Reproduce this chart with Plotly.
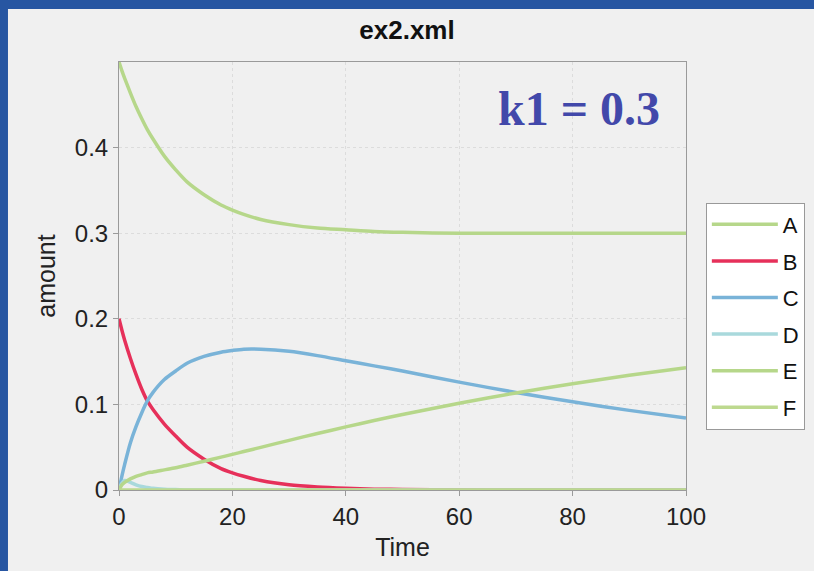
import plotly.graph_objects as go

# Simulation output of ex2.xml (amount of each species over time)
time = [0, 0.5, 1, 2, 3, 4, 5, 6, 8, 10, 12, 15, 18, 20, 22, 25, 30, 35,
        40, 45, 50, 60, 70, 80, 90, 100]
species_a = [0.500, 0.490, 0.481, 0.464, 0.448, 0.434, 0.421, 0.410, 0.390,
             0.374, 0.360, 0.345, 0.333, 0.327, 0.322, 0.316, 0.310, 0.306,
             0.304, 0.302, 0.301, 0.300, 0.300, 0.300, 0.300, 0.300]
species_b = [0.200, 0.187, 0.175, 0.154, 0.135, 0.118, 0.104, 0.094, 0.077,
             0.063, 0.050, 0.036, 0.025, 0.020, 0.016, 0.011, 0.006, 0.0035,
             0.002, 0.001, 0.0006, 0.0002, 0.0, 0.0, 0.0, 0.0]
species_c = [0.000, 0.016, 0.030, 0.055, 0.074, 0.090, 0.104, 0.114, 0.129,
             0.139, 0.148, 0.156, 0.161, 0.163, 0.1645, 0.1645, 0.162, 0.157,
             0.151, 0.145, 0.139, 0.126, 0.114, 0.103, 0.093, 0.084]
species_d = [0.000, 0.008, 0.011, 0.009, 0.006, 0.004, 0.003, 0.002, 0.001,
             0.0005, 0.0, 0.0, 0.0, 0.0, 0.0, 0.0, 0.0, 0.0,
             0.0, 0.0, 0.0, 0.0, 0.0, 0.0, 0.0, 0.0]
species_e = [0.000, 0.006, 0.009, 0.013, 0.016, 0.018, 0.020, 0.021, 0.0235,
             0.026, 0.029, 0.0336, 0.0384, 0.0416, 0.0449, 0.0498, 0.058, 0.066,
             0.0737, 0.0811, 0.0882, 0.1014, 0.1134, 0.1242, 0.134, 0.1428]
species_f = [0.0] * len(time)

names = ["A", "B", "C", "D", "E", "F"]
colors = ["#b6d78a", "#e6305a", "#79b3d8", "#a9d9dc", "#b6d78a", "#bdd98f"]
series = [species_a, species_b, species_c, species_d, species_e, species_f]

x_ticks = [0, 20, 40, 60, 80, 100]
y_ticks = [0, 0.1, 0.2, 0.3, 0.4]
y_tick_text = ["0", "0.1", "0.2", "0.3", "0.4"]

fig = go.Figure()
for name, color, values in zip(names, colors, series):
    fig.add_trace(go.Scatter(
        x=time, y=values, name=name, mode="lines",
        line=dict(color=color, width=3.5, shape="spline", smoothing=0.8),
        legendgroup=name,
    ))

font_family = "Liberation Sans, Arial, sans-serif"
axis_common = dict(
    showline=True, linecolor="#9a9a9a", linewidth=1, mirror=True,
    showgrid=True, gridcolor="#dcdcdc", griddash="dot", gridwidth=1,
    ticks="outside", ticklen=5, tickcolor="#9a9a9a",
    zeroline=False,
    tickfont=dict(family=font_family, size=24, color="#222222"),
)

fig.update_layout(
    width=814, height=571,
    margin=dict(l=119, r=128, t=62, b=81, autoexpand=False),
    paper_bgcolor="#2756a2",
    plot_bgcolor="white",
    title=dict(text="<b>ex2.xml</b>", x=0.5, xanchor="center", y=0.947, yanchor="middle",
               font=dict(family=font_family, size=26, color="#111111")),
    xaxis=dict(range=[0, 100], tickvals=x_ticks,
               title=dict(text="Time", standoff=9,
                          font=dict(family=font_family, size=25, color="#222222")),
               **axis_common),
    yaxis=dict(range=[0, 0.5], tickvals=y_ticks, ticktext=y_tick_text,
               title=dict(text="amount", standoff=12,
                          font=dict(family=font_family, size=25, color="#222222")),
               **axis_common),
    legend=dict(x=1.035, xanchor="left", y=0.4065, yanchor="middle",
                bgcolor="white", bordercolor="#999999", borderwidth=1,
                font=dict(family=font_family, size=22, color="#111111"),
                itemwidth=66, tracegroupgap=5),
    showlegend=True,
    shapes=[
        # light gray panel behind the chart, inset from the blue frame
        dict(type="rect", xref="paper", yref="paper", layer="below",
             x0=-0.1958, x1=1.2258, y0=-0.1893, y1=1.1238,
             fillcolor="#f0f0f0", line=dict(width=0)),
    ],
    annotations=[
        dict(text="<b>k1 = 0.3</b>", xref="paper", yref="paper",
             x=0.811, y=0.8925, xanchor="center", yanchor="middle",
             showarrow=False,
             font=dict(family="Liberation Serif, Times New Roman, serif",
                       size=48, color="#4248aa")),
    ],
)

fig.write_html("out.html")
